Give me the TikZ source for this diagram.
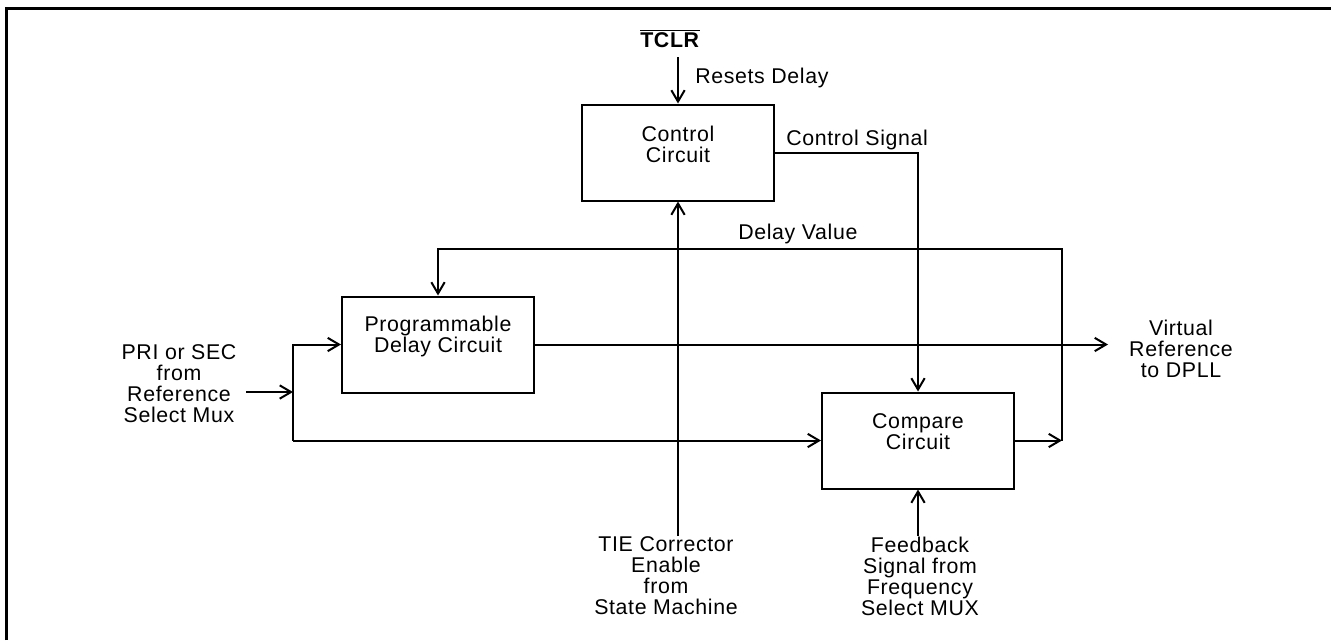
\documentclass[tikz,border=0pt]{standalone}
\usepackage{fontspec}
\setmainfont{Liberation Sans}[LetterSpace=3]
\usetikzlibrary{arrows.meta}
\begin{document}
\begin{tikzpicture}[line cap=butt,line join=miter,>={Straight Barb[length=8.5pt,width=10pt]},x=0.75pt,y=-0.75pt,
  lbl/.style={align=center,inner sep=0pt,font=\fontsize{16}{15.75}\selectfont},
  blk/.style={draw,line width=1.5pt,inner sep=0pt,minimum width=144pt,minimum height=72pt},
  wire/.style={line width=1.5pt}]
\useasboundingbox (0,0) rectangle (1331,640);
% frame
\draw [line width=2.25pt] (6,640) -- (6,8) -- (1331,8);
% blocks
\node [blk] (ctrl) at (678,152.5) {};
\node [blk] (prog) at (438,344.5) {};
\node [blk] (cmp) at (918,440.5) {};
\node [lbl] (ctrlL) at (678,144) {Control\\Circuit};
\node [lbl] (progL) at (438,336.5) {Programmable\\Delay Circuit};
\node [lbl] (cmpL) at (918,432) {Compare\\Circuit};
% outside texts
\node [lbl,anchor=base] (tclr) at (670,47) {$\overline{\hbox{\textbf{TCLR}}}$};
\node [lbl,anchor=base west] (rst) at (695,83) {Resets Delay};
\node [lbl,anchor=base west] (csig) at (786,145) {Control Signal};
\node [lbl,anchor=base west] (dval) at (738,239) {Delay Value};
\node [lbl] (src) at (179,383.5) {PRI or SEC\\from\\Reference\\Select Mux};
\node [lbl] (vref) at (1181,348.5) {Virtual\\Reference\\to DPLL};
\node [lbl] (tie) at (666,576) {TIE Corrector\\Enable\\from\\State Machine};
\node [lbl] (fbk) at (920,576) {Feedback\\Signal from\\Frequency\\Select MUX};
% free ends
\coordinate (tclrE) at (678,57);
\coordinate (srcE) at (246,392);
\coordinate (jn) at (293,392);
\coordinate (outE) at (1108,344.5);
\coordinate (loopB) at (1062,440.5);
\coordinate (loopT) at (1062,249);
\coordinate (tieE) at (678,536);
\coordinate (fbkE) at (918,536);
% connectors
\draw [->,wire] (tclrE) -- (ctrl.north);
\draw [->,wire] (ctrl.east) -| (cmp.north);
\draw [->,wire] (tieE) -- (ctrl.south);
\draw [->,wire] (fbkE) -- (cmp.south);
\draw [->,wire] (srcE) -- (jn);
\draw [->,wire] (jn |- cmp.west) |- (prog.west);
\draw [->,wire] (jn |- cmp.west) -- (cmp.west);
\draw [->,wire] (prog.east) -- (outE);
\draw [->,wire] (cmp.east) -- (loopB);
\draw [->,wire] (loopB) -- (loopT) -| (prog.north);
\end{tikzpicture}
\end{document}
